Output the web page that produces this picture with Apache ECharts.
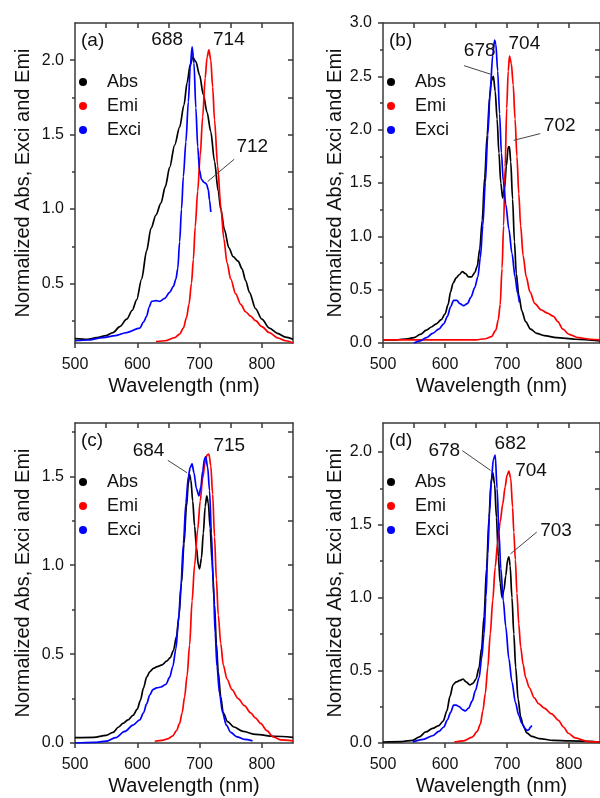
<!DOCTYPE html>
<html>
<head>
<meta charset="utf-8">
<title>Normalized Abs, Exci and Emi</title>
<script src="https://cdn.jsdelivr.net/npm/echarts@6/dist/echarts.min.js"></script>
<style>
  html, body { margin: 0; padding: 0; background: #fff; }
  #chart { width: 600px; height: 798px; }
</style>
</head>
<body>
<div id="chart"></div>
<script>
// [wavelength nm, normalized intensity]

// panel (a)
const absA = [[500,0.13],[520,0.125],[535,0.136],[550,0.15],[561,0.17],[572,0.21],[583,0.26],[592,0.32],[599,0.39],[607,0.53],[615,0.72],[622,0.87],[630,0.96],[638,1.04],[645,1.15],[652,1.28],[660,1.43],[668,1.55],[675,1.7],[680,1.85],[685,1.97],[689,2.02],[694,1.99],[700,1.9],[706,1.77],[712,1.65],[718,1.52],[724,1.32],[730,1.12],[734,1.0],[740,0.86],[747,0.74],[754,0.68],[762,0.65],[768,0.6],[774,0.52],[780,0.44],[790,0.33],[800,0.26],[812,0.2],[825,0.165],[838,0.14],[850,0.125]];
const emiA = [[630,0.11],[645,0.115],[660,0.136],[668,0.16],[674,0.2],[679,0.27],[683,0.36],[687,0.5],[690,0.66],[693,0.88],[697,1.12],[701,1.36],[705,1.62],[709,1.88],[712,2.02],[715,2.07],[718,2.0],[721,1.82],[724,1.6],[729,1.29],[734,1.02],[739,0.8],[744,0.64],[750,0.53],[758,0.43],[766,0.36],[774,0.31],[782,0.28],[790,0.25],[800,0.21],[812,0.17],[825,0.135],[838,0.115],[850,0.1]];
const exciA = [[500,0.115],[520,0.12],[545,0.136],[565,0.15],[583,0.17],[604,0.2],[610,0.24],[615,0.28],[619,0.34],[623,0.38],[630,0.385],[636,0.38],[644,0.4],[652,0.44],[658,0.48],[662,0.53],[665,0.6],[668,0.78],[671,1.0],[674,1.22],[678,1.45],[682,1.72],[685,1.95],[688,2.09],[691,1.98],[694,1.68],[697,1.42],[700,1.26],[703,1.2],[707,1.18],[711,1.17],[714,1.13],[716,1.06],[718,0.98]];

// panel (b)
const absB = [[500,0.03],[520,0.03],[540,0.04],[550,0.05],[560,0.08],[570,0.12],[578,0.15],[586,0.18],[594,0.22],[600,0.27],[605,0.36],[609,0.48],[613,0.56],[618,0.61],[623,0.64],[628,0.67],[633,0.65],[638,0.62],[643,0.62],[648,0.66],[652,0.72],[656,0.88],[660,1.15],[664,1.55],[668,1.95],[672,2.3],[675,2.46],[678,2.5],[681,2.36],[684,2.1],[687,1.78],[690,1.5],[693,1.36],[696,1.45],[699,1.66],[702,1.84],[704,1.84],[706,1.7],[709,1.35],[712,0.95],[715,0.65],[719,0.45],[724,0.3],[730,0.2],[738,0.13],[748,0.09],[760,0.07],[780,0.05],[810,0.035],[850,0.02]];
const emiB = [[500,0.03],[560,0.03],[620,0.03],[650,0.03],[665,0.04],[675,0.06],[682,0.12],[686,0.22],[689,0.36],[692,0.7],[694.5,1.1],[697,1.65],[699.5,2.2],[702,2.55],[704,2.69],[707,2.62],[710,2.42],[713,2.1],[716,1.75],[719,1.4],[722,1.1],[726,0.82],[731,0.62],[737,0.48],[745,0.37],[755,0.31],[765,0.28],[775,0.25],[782,0.2],[790,0.13],[800,0.08],[815,0.05],[835,0.035],[850,0.03]];
const exciB = [[550,0.0],[560,0.02],[570,0.05],[580,0.09],[590,0.13],[598,0.18],[604,0.25],[609,0.34],[614,0.4],[619,0.4],[624,0.37],[630,0.35],[636,0.37],[642,0.43],[648,0.52],[653,0.62],[657,0.8],[661,1.1],[665,1.5],[669,1.95],[673,2.38],[677,2.7],[680,2.84],[682,2.8],[685,2.55],[688,2.15],[691,1.78],[694,1.52],[698,1.3],[703,1.07],[708,0.84],[713,0.62],[717,0.47],[720,0.38]];

// panel (c)
const absC = [[500,0.03],[530,0.032],[550,0.043],[561,0.06],[570,0.09],[577,0.11],[585,0.13],[593,0.155],[600,0.19],[605,0.24],[610,0.31],[615,0.37],[620,0.4],[626,0.42],[632,0.43],[640,0.44],[647,0.46],[653,0.48],[658,0.52],[663,0.6],[667,0.72],[671,0.9],[675,1.12],[679,1.33],[682,1.46],[684,1.51],[686,1.48],[689,1.36],[692,1.22],[695,1.1],[698,1.0],[700,0.98],[703,1.04],[706,1.18],[709,1.33],[711.5,1.39],[714,1.35],[717,1.21],[720,1.02],[724,0.78],[727,0.56],[730,0.4],[734,0.26],[738,0.17],[745,0.12],[755,0.09],[770,0.065],[790,0.048],[820,0.038],[850,0.032]];
const emiC = [[628,0.01],[640,0.015],[650,0.025],[657,0.04],[663,0.07],[668,0.11],[672,0.17],[676,0.26],[680,0.38],[684,0.55],[688,0.8],[692,1.0],[697,1.2],[701,1.36],[705,1.49],[709,1.58],[712,1.62],[715,1.625],[718,1.56],[721,1.4],[724,1.16],[727,0.92],[730,0.72],[734,0.56],[738,0.44],[744,0.36],[752,0.3],[762,0.25],[772,0.21],[782,0.17],[790,0.14],[798,0.11],[808,0.07],[818,0.035],[830,0.018],[850,0.012]];
const exciC = [[500,0.0],[530,0.003],[550,0.01],[565,0.03],[580,0.065],[593,0.1],[604,0.13],[610,0.17],[615,0.22],[620,0.27],[625,0.3],[631,0.31],[638,0.315],[646,0.33],[652,0.37],[657,0.43],[662,0.53],[666,0.68],[670,0.88],[674,1.12],[678,1.35],[682,1.5],[685,1.55],[688,1.57],[691,1.52],[695,1.43],[699,1.39],[702,1.44],[705,1.53],[708,1.6],[710,1.61],[713,1.55],[716,1.42],[719,1.18],[722,0.9],[725,0.62],[728,0.43],[732,0.28],[737,0.17],[743,0.1],[750,0.06],[760,0.035],[772,0.02],[785,0.012]];

// panel (d)
const absD = [[500,0.007],[530,0.01],[548,0.018],[558,0.04],[569,0.076],[580,0.1],[590,0.12],[597,0.15],[603,0.22],[608,0.32],[613,0.4],[618,0.42],[624,0.43],[629,0.44],[634,0.42],[640,0.4],[645,0.41],[650,0.44],[655,0.52],[659,0.65],[663,0.87],[667,1.2],[671,1.55],[674,1.78],[677,1.86],[680,1.78],[683,1.55],[686,1.28],[689,1.1],[692,1.0],[695,1.05],[698,1.15],[701,1.26],[703,1.28],[705,1.22],[708,1.0],[711,0.75],[714,0.52],[718,0.3],[722,0.18],[726,0.12],[732,0.07],[740,0.045],[752,0.03],[775,0.018],[800,0.014],[850,0.007]];
const emiD = [[615,0.007],[630,0.015],[644,0.04],[652,0.08],[657,0.13],[661,0.22],[665,0.34],[669,0.52],[673,0.75],[677,0.98],[681,1.21],[685,1.38],[689,1.52],[693,1.64],[697,1.76],[700,1.84],[703,1.87],[706,1.82],[709,1.62],[711,1.45],[713.5,1.26],[716,1.03],[719,0.82],[722,0.66],[726,0.54],[730,0.45],[736,0.38],[744,0.31],[751,0.27],[760,0.24],[772,0.2],[783,0.156],[791,0.11],[799,0.067],[810,0.035],[831,0.01],[850,0.007]];
const exciD = [[548,0.007],[565,0.025],[580,0.05],[590,0.08],[598,0.11],[604,0.16],[609,0.21],[614,0.26],[618,0.26],[623,0.25],[628,0.23],[633,0.22],[638,0.24],[644,0.29],[649,0.36],[655,0.45],[659,0.58],[663,0.75],[666,1.0],[669,1.3],[672,1.6],[675,1.82],[678,1.95],[681,1.98],[684,1.75],[687,1.45],[690,1.2],[694,0.98],[698,0.8],[703,0.58],[708,0.42],[713.5,0.28],[719,0.19],[724,0.135],[729,0.1],[732,0.087],[735,0.09],[738,0.11],[740,0.12]];

// peak labels [text, nm, value] and leader lines [nm1, v1, nm2, v2]
const notesA = [['688',648,2.134],['714',747,2.134],['712',784.6,1.42]];
const leadersA = [[755.7,1.335,713,1.185]];
const notesB = [['678',656,2.74],['704',728,2.81],['702',785,2.04]];
const leadersB = [[630.7,2.6,673.5,2.52],[753.6,1.963,710.8,1.9]];
const notesC = [['684',618,1.644],['715',747.7,1.673]];
const leadersC = [[649,1.59,680,1.52]];
const notesD = [['678',598.8,2.01],['682',705.5,2.058],['704',738.8,1.874],['703',779,1.462]];
const leadersD = [[628,2.01,673.5,1.874],[748,1.45,705.5,1.3]];

// tick values
const xLabels = [500,600,700,800];
const xTopTicks = [550,600,650,700,750,800];
const yLabelsA = [0.5,1.0,1.5,2.0];
const yLabelsB = [0,0.5,1.0,1.5,2.0,2.5,3.0];
const yLabelsC = [0,0.5,1.0,1.5];
const yLabelsD = [0,0.5,1.0,1.5,2.0];
const yMinorA = [0.25,0.75,1.25,1.75];
const yMinorB = [0.25,0.75,1.25,1.75,2.25,2.75];
const yMinorC = [0.25,0.75,1.25,1.75];
const yMinorD = [0.25,0.75,1.25,1.75];
const yRightA = [0.25,0.5,0.75,1.0,1.25,1.5,1.75,2.0];
const yRightB = [0.25,0.5,0.75,1.0,1.25,1.5,1.75,2.0,2.25,2.5,2.75];
const yRightC = [0.25,0.5,0.75,1.0,1.25,1.5,1.75];
const yRightD = [0.25,0.5,0.75,1.0,1.25,1.5,1.75,2.0];

const seriesNames = ['Abs', 'Emi', 'Exci'];
const seriesColors = ['#000000', '#ff0000', '#0000ff'];

const font = "'Liberation Sans', Arial, sans-serif";
const ink = '#111';
const frame = '#3a3a3a';

const panels = [
  { tag: '(a)', lines: [absA, emiA, exciA], yMin: 0.1, yMax: 2.25, yLabels: yLabelsA, yMinor: yMinorA, yRight: yRightA, notes: notesA, leaders: leadersA, left: 75, top: 23, width: 218, nameGap: 42 },
  { tag: '(b)', lines: [absB, emiB, exciB], yMin: 0, yMax: 3.0, yLabels: yLabelsB, yMinor: yMinorB, yRight: yRightB, notes: notesB, leaders: leadersB, left: 383, top: 23, width: 219, nameGap: 35 },
  { tag: '(c)', lines: [absC, emiC, exciC], yMin: 0, yMax: 1.8, yLabels: yLabelsC, yMinor: yMinorC, yRight: yRightC, notes: notesC, leaders: leadersC, left: 75, top: 423, width: 218, nameGap: 42 },
  { tag: '(d)', lines: [absD, emiD, exciD], yMin: 0, yMax: 2.2, yLabels: yLabelsD, yMinor: yMinorD, yRight: yRightD, notes: notesD, leaders: leadersD, left: 383, top: 423, width: 219, nameGap: 35 }
];

const chart = echarts.init(document.getElementById('chart'), null, { renderer: 'canvas' });

const grid = [], xAxis = [], yAxis = [], series = [], legend = [], title = [];
const lineSty = { color: frame, width: 1.5 };

panels.forEach((p, i) => {
  grid.push({ left: p.left, top: p.top, width: p.width, height: 320 });

  title.push({
    text: p.tag, left: p.left + 6, top: p.top + 8, padding: 0,
    textStyle: { fontSize: 19, fontWeight: 'normal', color: ink, fontFamily: font }
  });

  // dot centred ~8px right of the axis, text starting ~32px right of it
  legend.push({
    data: seriesNames, orient: 'vertical', left: p.left + 4, top: p.top + 50, padding: 0,
    icon: 'circle', itemWidth: 8, itemHeight: 8, itemGap: 6, selectedMode: false,
    textStyle: { fontSize: 18, color: ink, fontFamily: font, padding: [0, 0, 0, 15] }
  });

  // bottom + top x axes
  xAxis.push({
    type: 'value', gridIndex: i, min: 500, max: 850, position: 'bottom',
    axisLine: { onZero: false, lineStyle: lineSty },
    axisTick: { customValues: xLabels, length: 5, lineStyle: lineSty },
    axisLabel: { customValues: xLabels, margin: 14, fontSize: 16, color: ink, fontFamily: font },
    splitLine: { show: false },
    name: 'Wavelength (nm)', nameLocation: 'middle', nameGap: 33,
    nameTextStyle: { fontSize: 20, color: ink, fontFamily: font }
  });
  xAxis.push({
    type: 'value', gridIndex: i, min: 500, max: 850, position: 'top',
    axisLine: { onZero: false, lineStyle: lineSty },
    axisTick: { customValues: xTopTicks, inside: true, length: 5, lineStyle: lineSty },
    axisLabel: { show: false },
    splitLine: { show: false }
  });

  // left (major + minor) and right y axes
  yAxis.push({
    type: 'value', gridIndex: i, min: p.yMin, max: p.yMax, position: 'left',
    axisLine: { onZero: false, lineStyle: lineSty },
    axisTick: { customValues: p.yLabels, length: 5, lineStyle: lineSty },
    axisLabel: { customValues: p.yLabels, margin: 11, fontSize: 16, color: ink, fontFamily: font, formatter: v => v.toFixed(1) },
    splitLine: { show: false },
    name: 'Normalized Abs, Exci and Emi', nameLocation: 'middle', nameRotate: 90, nameGap: p.nameGap,
    nameTextStyle: { fontSize: 20, color: ink, fontFamily: font }
  });
  yAxis.push({
    type: 'value', gridIndex: i, min: p.yMin, max: p.yMax, position: 'left',
    axisLine: { show: false, onZero: false },
    axisTick: { customValues: p.yMinor, length: 3, lineStyle: lineSty },
    axisLabel: { show: false },
    splitLine: { show: false }
  });
  yAxis.push({
    type: 'value', gridIndex: i, min: p.yMin, max: p.yMax, position: 'right',
    axisLine: { onZero: false, lineStyle: lineSty },
    axisTick: { customValues: p.yRight, inside: true, length: 5, lineStyle: lineSty },
    axisLabel: { show: false },
    splitLine: { show: false }
  });

  p.lines.forEach((data, k) => {
    const s = {
      name: seriesNames[k], type: 'line', xAxisIndex: 2 * i, yAxisIndex: 3 * i,
      data: data, smooth: 0.3, smoothMonotone: 'x', showSymbol: false, symbol: 'none',
      itemStyle: { color: seriesColors[k] },
      lineStyle: { color: seriesColors[k], width: 1.7 },
      emphasis: { disabled: true }, silent: true
    };
    if (k === 0) {
      s.markPoint = {
        silent: true, symbol: 'circle', symbolSize: 0,
        label: { show: true, position: 'inside', formatter: '{b}', fontSize: 19, color: ink, fontFamily: font },
        data: p.notes.map(n => ({ name: n[0], coord: [n[1], n[2]] }))
      };
      s.markLine = {
        silent: true, symbol: ['none', 'none'],
        lineStyle: { color: '#444', width: 1, type: 'solid' },
        label: { show: false },
        data: p.leaders.map(l => [{ coord: [l[0], l[1]] }, { coord: [l[2], l[3]] }])
      };
    }
    series.push(s);
  });
});

chart.setOption({
  animation: false,
  backgroundColor: '#fff',
  title, legend, grid, xAxis, yAxis, series
});
</script>
</body>
</html>
